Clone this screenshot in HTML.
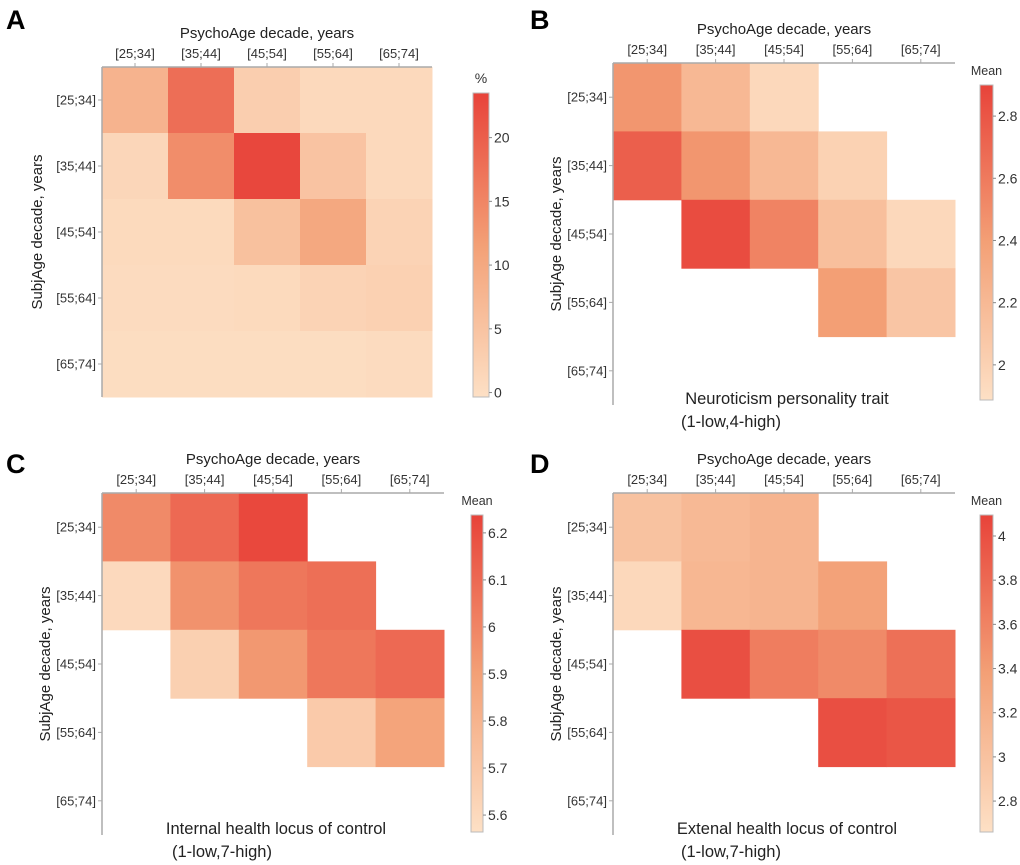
<!DOCTYPE html>
<html><head><meta charset="utf-8"><style>
body{margin:0;background:#fff;}
svg{display:block;font-family:"Liberation Sans",Arial,sans-serif;}
</style></head><body>
<svg id="fig" width="1020" height="865" viewBox="0 0 1020 865"></svg>
<script>
const rowCats=["[25;34]","[35;44]","[45;54]","[55;64]","[65;74]"];
const colCats=["[25;34]","[35;44]","[45;54]","[55;64]","[65;74]"];
const valuesA=[[8,18,3,1,1],[1.5,14,23,5,1],[0.8,0.8,5.5,10,2],[0.5,0.5,0.8,2,2.5],[0.3,0.3,0.3,0.3,0.5]];
const valuesB=[[2.45,2.2,1.95,null,null],[2.75,2.45,2.2,2.0,null],[null,2.85,2.55,2.15,1.95],[null,null,null,2.4,2.1],[null,null,null,null,null]];
const valuesC=[[5.98,6.1,6.22,null,null],[5.6,5.95,6.05,6.08,null],[null,5.65,5.93,6.05,6.1],[null,null,null,5.68,5.88],[null,null,null,null,null]];
const valuesD=[[3.0,3.1,3.15,null,null],[2.75,3.12,3.15,3.35,null],[null,4.0,3.65,3.55,3.75],[null,null,null,4.0,3.95],[null,null,null,null,null]];
const ticksA=[0,5,10,15,20];
const ticksB=[2,2.2,2.4,2.6,2.8];
const ticksC=[5.6,5.7,5.8,5.9,6,6.1,6.2];
const ticksD=[2.8,3,3.2,3.4,3.6,3.8,4];
const NS="http://www.w3.org/2000/svg";
const svg=document.getElementById('fig');
function mk(tag,attrs,parent,text){const e=document.createElementNS(NS,tag);for(const k in attrs)e.setAttribute(k,attrs[k]);if(text!==undefined)e.textContent=text;(parent||svg).appendChild(e);return e;}
const stops=[[0,[253,224,197]],[0.5,[243,160,118]],[1,[232,67,58]]];
function color(t){t=Math.max(0,Math.min(1,t));let i=t<=0.5?0:1;const a=stops[i],b=stops[i+1];const f=(t-a[0])/(b[0]-a[0]);const c=a[1].map((v,j)=>Math.round(v+(b[1][j]-v)*f));return `rgb(${c[0]},${c[1]},${c[2]})`;}
function panel(cfg){
  const g=mk('g',{},svg);
  
  
  const cw=(cfg.x1-cfg.x0)/5, rh=(cfg.y1-cfg.y0)/5;
  const xs=i=>cfg.x0+i*cw, ys=i=>cfg.y0+i*rh;
  const norm=v=>(v-cfg.dmin)/(cfg.dmax-cfg.dmin);
  cfg.values.forEach((row,r)=>row.forEach((v,c)=>{if(v===null)return;
    const rect=mk('rect',{x:xs(c),y:ys(r),width:cw+0.5,height:rh+0.5,fill:color(norm(v))},g);
    
    }));
  const ax=mk('line',{x1:cfg.x0,y1:cfg.y0,x2:cfg.x1,y2:cfg.y0,stroke:'#aaa','stroke-width':1.5},g);
  
  const ay=mk('line',{x1:cfg.x0,y1:cfg.y0,x2:cfg.x0,y2:cfg.y1,stroke:'#aaa','stroke-width':1.5},g);
  
  colCats.forEach((c,i)=>{const cx=xs(i)+cw/2;
    mk('line',{x1:cx,y1:cfg.y0,x2:cx,y2:cfg.y0-4,stroke:'#aaa'},g);
    const t=mk('text',{x:cx,y:cfg.y0-9,'text-anchor':'middle','font-size':13,fill:'#333'},g,c);
    });
  rowCats.forEach((c,i)=>{const cy=ys(i)+rh/2;
    mk('line',{x1:cfg.x0,y1:cy,x2:cfg.x0-4,y2:cy,stroke:'#aaa'},g);
    const t=mk('text',{x:cfg.x0-6,y:cy+4.5,'text-anchor':'end','font-size':13,fill:'#333'},g,c);
    });
  const xt=mk('text',{x:(cfg.x0+cfg.x1)/2,y:cfg.y0-29,'text-anchor':'middle','font-size':15,fill:'#222'},g,'PsychoAge decade, years');
  
  const yt=mk('text',{x:0,y:0,'text-anchor':'middle','font-size':15,fill:'#222',transform:`translate(${cfg.ytx},${(cfg.y0+cfg.y1)/2}) rotate(-90)`},g,'SubjAge decade, years');
  
  const L=mk('text',{x:cfg.lx,y:cfg.ly,'font-size':27,'font-weight':'bold',fill:'#000'},g,cfg.letter);
  
  const gid='grad'+cfg.letter;
  const defs=mk('defs',{},g);const lg=mk('linearGradient',{id:gid,x1:0,y1:1,x2:0,y2:0},defs);
  for(let k=0;k<=10;k++)mk('stop',{offset:k/10,'stop-color':color(k/10)},lg);
  const cb=mk('rect',{x:cfg.cbx,y:cfg.cby0,width:cfg.cbw,height:cfg.cby1-cfg.cby0,fill:`url(#${gid})`,stroke:'#bbb'},g);
  
  const cy=v=>cfg.cby1-(v-cfg.dmin)/(cfg.dmax-cfg.dmin)*(cfg.cby1-cfg.cby0);
  cfg.ticks.forEach(v=>{const y=cy(v);
    mk('line',{x1:cfg.cbx+cfg.cbw,y1:y,x2:cfg.cbx+cfg.cbw+3,y2:y,stroke:'#888'},g);
    const t=mk('text',{x:cfg.cbx+cfg.cbw+5,y:y+5,'font-size':14,fill:'#333'},g,String(v));
    });
  const ct=mk('text',{x:cfg.cbx+cfg.cbw/2,y:cfg.cby0-10,'text-anchor':'middle','font-size':cfg.ctfs,fill:'#333'},g,cfg.cbtitle);
  
  if(cfg.cap1){
    const c1=mk('text',{x:cfg.cap1x,y:cfg.cap1y,'text-anchor':'middle','font-size':16.5,fill:'#222'},g,cfg.cap1);
    
    const c2=mk('text',{x:cfg.cap2x,y:cfg.cap1y+23,'text-anchor':'middle','font-size':16.5,fill:'#222'},g,cfg.cap2);
    
  }
}
panel({letter:'A',values:valuesA,ticks:ticksA,dmin:-0.35,dmax:23.5,x0:102,x1:432,y0:67,y1:397,ytx:42,lx:6,ly:29,cbx:473,cbw:16,cby0:93,cby1:397,cbtitle:'%',ctfs:14});
panel({letter:'B',values:valuesB,ticks:ticksB,dmin:1.887,dmax:2.9,x0:613,x1:955,y0:63,y1:405,ytx:561,lx:530,ly:29,cbx:980,cbw:13,cby0:85,cby1:400,cbtitle:'Mean',ctfs:12.5,cap1:'Neuroticism personality trait',cap1x:787,cap1y:404,cap2:'(1-low,4-high)',cap2x:731});
panel({letter:'C',values:valuesC,ticks:ticksC,dmin:5.564,dmax:6.238,x0:102,x1:444,y0:493,y1:835,ytx:50,lx:6,ly:473,cbx:471,cbw:12,cby0:515,cby1:832,cbtitle:'Mean',ctfs:12.5,cap1:'Internal health locus of control',cap1x:276,cap1y:834,cap2:'(1-low,7-high)',cap2x:222});
panel({letter:'D',values:valuesD,ticks:ticksD,dmin:2.66,dmax:4.095,x0:613,x1:955,y0:493,y1:835,ytx:561,lx:530,ly:473,cbx:980,cbw:13,cby0:515,cby1:832,cbtitle:'Mean',ctfs:12.5,cap1:'Extenal health locus of control',cap1x:787,cap1y:834,cap2:'(1-low,7-high)',cap2x:731});
</script>
</body></html>
